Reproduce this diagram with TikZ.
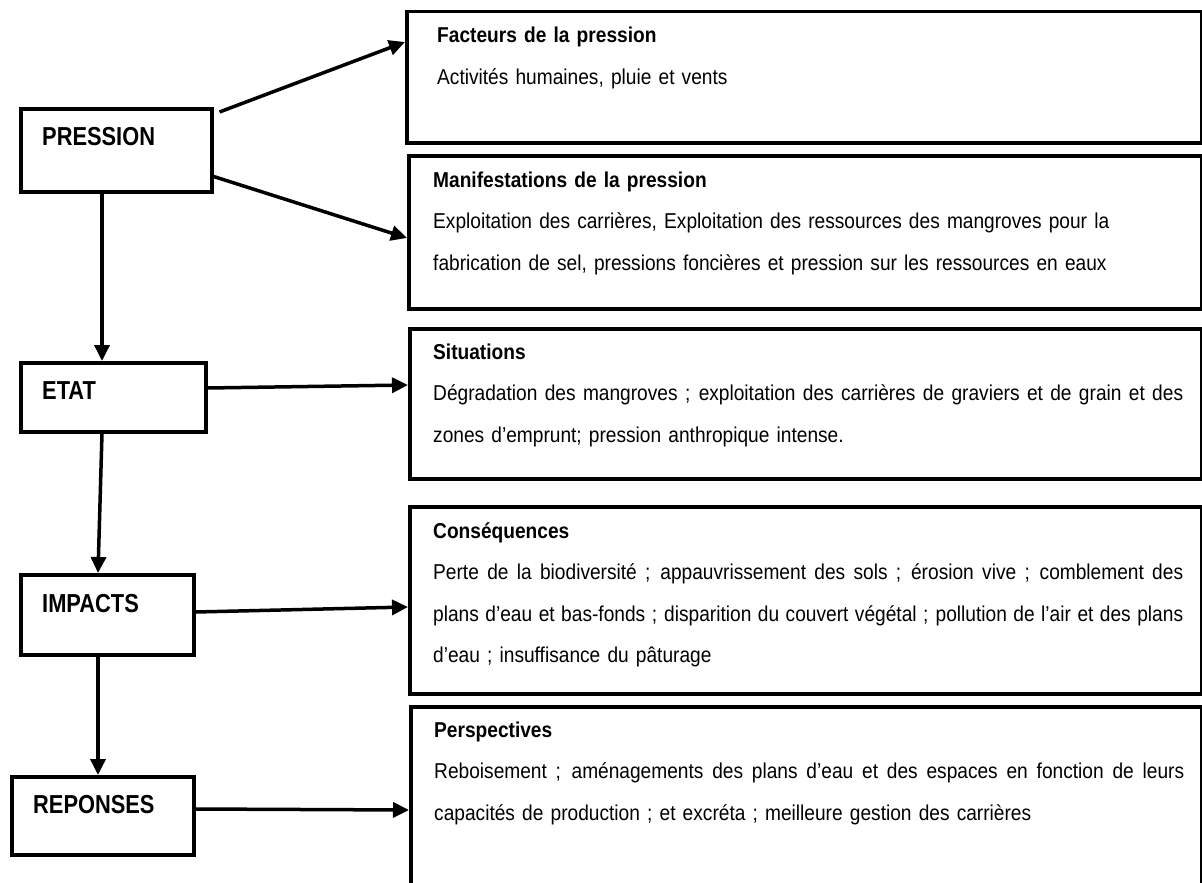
\documentclass[tikz,border=0pt]{standalone}
\usepackage{fontspec}
\setmainfont{Liberation Sans}[FakeStretch=0.89,WordSpace={1,1.5,2.5}]
\newfontfamily\labelfont{Liberation Sans}[FakeStretch=0.84]
\usepackage{tikz}
\usetikzlibrary{arrows.meta,calc,positioning}
\newcommand{\fullline}[1]{\makebox[750pt][s]{\spaceskip=0pt\relax #1}}

\begin{document}
\begin{tikzpicture}[x=1pt,y=-1pt,
  box/.style={draw,line width=3.5pt,anchor=north west,inner sep=0pt},
  lab/.style={anchor=base west,inner sep=0pt,font=\labelfont\bfseries\fontsize{26}{30}\selectfont},
  txt/.style={anchor=base west,inner sep=0pt,text width=750pt,align=left,font=\fontsize{21.5}{41.5}\selectfont},
  arr/.style={line width=3.5pt,-{Triangle[length=16pt,width=15pt]}}]
\useasboundingbox (0,0) rectangle (1202,883);
% left column
\node[box,minimum width=191pt,minimum height=83pt] (pres) at (19,107) {};
\node[box,minimum width=185pt,minimum height=69pt] (etat) at (19,361) {};
\node[box,minimum width=173pt,minimum height=80pt] (imp) at (19,573) {};
\node[box,minimum width=182pt,minimum height=78pt] (rep) at (10,775) {};
\node[lab] (presl) at ($(pres.north west)+(23,38)$) {PRESSION};
\node[lab] (etatl) at ($(etat.north west)+(23,38)$) {ETAT};
\node[lab] (impl) at ($(imp.north west)+(23,39)$) {IMPACTS};
\node[lab] (repl) at ($(rep.north west)+(23,38)$) {REPONSES};
% right column
\node[box,minimum width=795pt,minimum height=131pt] (fact) at (405,10) {};
\node[box,minimum width=793pt,minimum height=153pt] (mani) at (407,154) {};
\node[box,minimum width=792pt,minimum height=150pt] (situ) at (408,327) {};
\node[box,minimum width=792pt,minimum height=187pt] (cons) at (408,505) {};
\node[box,minimum width=791pt,minimum height=200pt] (pers) at (409,705) {};
\node[txt] (factt) at ($(fact.north west)+(32,33)$) {\textbf{Facteurs de la pression}\\
Activités humaines, pluie et vents};
\node[txt] (manit) at ($(mani.north west)+(26,33)$) {\textbf{Manifestations de la pression}\\
Exploitation des carrières, Exploitation des ressources des mangroves pour la\\
fabrication de sel, pressions foncières et pression sur les ressources en eaux};
\node[txt] (situt) at ($(situ.north west)+(25,32)$) {\textbf{Situations}\\
\fullline{Dégradation des mangroves ; exploitation des carrières de graviers et de grain et des}\\
zones d’emprunt; pression anthropique intense.};
\node[txt] (const) at ($(cons.north west)+(25,33)$) {\textbf{Conséquences}\\
\fullline{Perte de la biodiversité ; appauvrissement des sols ; érosion vive ; comblement des}\\
\fullline{plans d’eau et bas-fonds ; disparition du couvert végétal ; pollution de l’air et des plans}\\
d’eau ; insuffisance du pâturage};
\node[txt] (perst) at ($(pers.north west)+(25,32)$) {\textbf{Perspectives}\\
\fullline{Reboisement ; aménagements des plans d’eau et des espaces en fonction de leurs}\\
capacités de production ; et excréta ; meilleure gestion des carrières};
% arrows
\draw[arr] ($(pres.north east)+(6,5)$) -- ($(fact.north west)+(0,32)$);
\draw[arr] ($(pres.south east)+(-3,-18)$) -- ($(mani.north west)+(0,84)$);
\draw[arr] ($(pres.south west)+(83,0)$) -- ($(etat.north west)+(83,0)$);
\draw[arr] ($(etat.north east)+(0,27)$) -- ($(situ.north west)+(0,58)$);
\draw[arr] ($(etat.south west)+(83,0)$) -- ($(imp.north west)+(79,0)$);
\draw[arr] ($(imp.north east)+(0,39)$) -- ($(cons.north west)+(0,102)$);
\draw[arr] ($(imp.south west)+(79,0)$) -- ($(rep.north west)+(88,0)$);
\draw[arr] ($(rep.north east)+(0,34)$) -- ($(pers.north west)+(0,105)$);
\end{tikzpicture}
\end{document}
